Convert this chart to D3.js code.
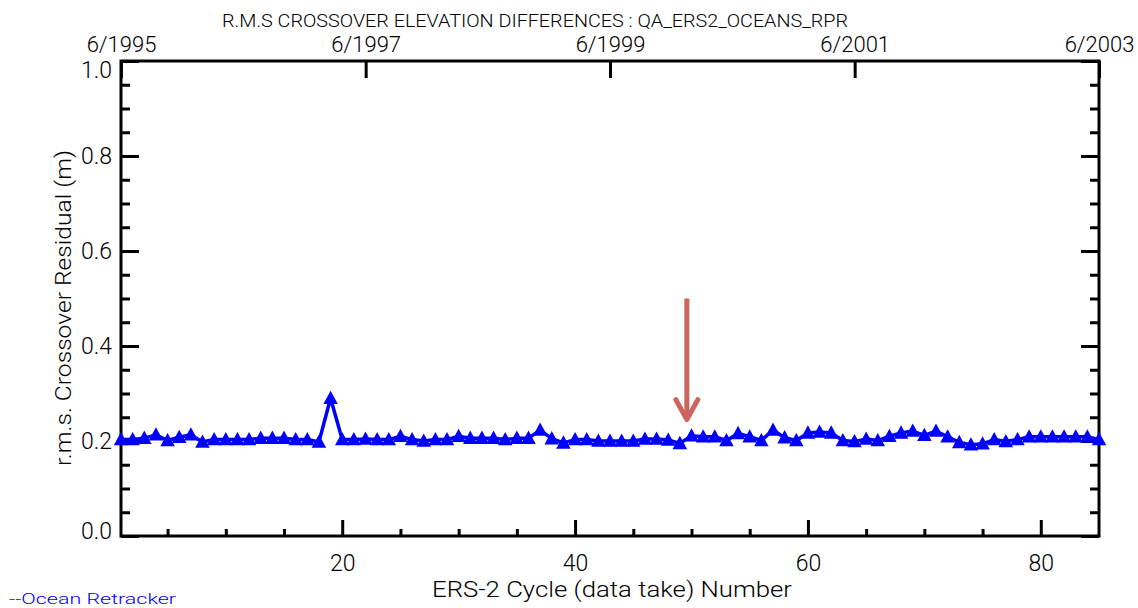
<!DOCTYPE html>
<html>
<head>
<meta charset="utf-8">
<script src="https://cdn.jsdelivr.net/npm/d3@7"></script>
<style>
  body { margin: 0; background: #fff; }
  svg { display: block; }
  .axis text { font-family: Roboto, "DejaVu Sans Condensed", sans-serif; font-weight: 300; font-size: 23px; fill: #000; }
  .axis.top text { font-size: 22px; }
  .axis line { stroke: #000; stroke-width: 3; }
  .axis path { display: none; }
  .label { font-family: Roboto, "DejaVu Sans Condensed", sans-serif; font-weight: 300; fill: #000; }
</style>
</head>
<body>
<div class="chart"></div>
<script>
// r.m.s. crossover residual (m), one value per ERS-2 cycle starting at cycle 1
var firstCycle = 1;
var rmsResidual = [
  0.203, 0.203, 0.206, 0.213, 0.201, 0.208, 0.213, 0.198, 0.203, 0.203,
  0.203, 0.203, 0.206, 0.206, 0.206, 0.203, 0.203, 0.198, 0.290, 0.203,
  0.203, 0.204, 0.203, 0.203, 0.210, 0.203, 0.200, 0.203, 0.203, 0.210,
  0.206, 0.206, 0.206, 0.203, 0.206, 0.206, 0.223, 0.205, 0.196, 0.203,
  0.203, 0.200, 0.200, 0.200, 0.200, 0.204, 0.204, 0.202, 0.195, 0.211,
  0.209, 0.209, 0.201, 0.216, 0.209, 0.201, 0.223, 0.207, 0.201, 0.217,
  0.219, 0.217, 0.201, 0.199, 0.204, 0.201, 0.210, 0.217, 0.221, 0.212,
  0.221, 0.209, 0.197, 0.192, 0.194, 0.203, 0.199, 0.203, 0.209, 0.209,
  0.209, 0.209, 0.209, 0.209, 0.203
];

var xDomain = [1, 85];
var xMajorTicks = [20, 40, 60, 80];
var xMinorTicks = [5, 10, 15, 25, 30, 35, 45, 50, 55, 65, 70, 75];
var yDomain = [0, 1];
var yMajorTicks = [0, 0.2, 0.4, 0.6, 0.8, 1.0];
var yMinorTicks = [0.05, 0.1, 0.15, 0.25, 0.3, 0.35, 0.45, 0.5, 0.55, 0.65, 0.7, 0.75, 0.85, 0.9, 0.95];
var dateTickLabels = ['6/1995', '6/1997', '6/1999', '6/2001', '6/2003'];

var chartTitle = 'R.M.S CROSSOVER ELEVATION DIFFERENCES : QA_ERS2_OCEANS_RPR';
var xTitle = 'ERS-2 Cycle (data take) Number';
var yTitle = 'r.m.s. Crossover Residual (m)';
var legendText = '--Ocean Retracker';

// red arrow annotation: cycle position, from / to residual
var arrowCycle = 49.6, arrowFrom = 0.5, arrowTo = 0.245;

function init() {
  var width = 1138,
      height = 608,
      left = 121,
      right = 1099,
      top = 61,
      bottom = 536,
      majorLen = 18,
      minorLen = 9,
      blue = '#0000ff';

  var parseDate = d3.timeParse('%m/%Y');
  var dateTicks = dateTickLabels.map(parseDate);

  var x = d3.scaleLinear().domain(xDomain).range([left, right]);
  var y = d3.scaleLinear().domain(yDomain).range([bottom, top]);
  var t = d3.scaleTime()
      .domain([dateTicks[0], dateTicks[dateTicks.length - 1]])
      .range([left, right]);

  var svg = d3.select('.chart')
    .append('svg')
      .attr('width', width)
      .attr('height', height);

  // left axis
  svg.append('g')
      .attr('class', 'axis')
      .attr('transform', 'translate(' + left + ',0)')
      .call(d3.axisLeft(y).tickValues(yMajorTicks).tickSize(-majorLen).tickPadding(9)
        .tickFormat(d3.format('.1f')));
  svg.append('g')
      .attr('class', 'axis')
      .attr('transform', 'translate(' + left + ',0)')
      .call(d3.axisLeft(y).tickValues(yMinorTicks).tickSize(-minorLen).tickFormat(''));

  // IDL nudges the end labels inside the frame
  svg.selectAll('.axis .tick text')
      .filter(function(d) { return d === 1; })
      .attr('dy', '0.7em');
  svg.selectAll('.axis .tick text')
      .filter(function(d) { return d === 0 && this.textContent === '0.0'; })
      .attr('dy', '0.12em');

  // right axis
  svg.append('g')
      .attr('class', 'axis')
      .attr('transform', 'translate(' + right + ',0)')
      .call(d3.axisRight(y).tickValues(yMajorTicks).tickSize(-majorLen).tickFormat(''));
  svg.append('g')
      .attr('class', 'axis')
      .attr('transform', 'translate(' + right + ',0)')
      .call(d3.axisRight(y).tickValues(yMinorTicks).tickSize(-minorLen).tickFormat(''));

  // bottom axis
  svg.append('g')
      .attr('class', 'axis')
      .attr('transform', 'translate(0,' + bottom + ')')
      .call(d3.axisBottom(x).tickValues(xMajorTicks).tickSize(-16).tickPadding(19));
  svg.append('g')
      .attr('class', 'axis')
      .attr('transform', 'translate(0,' + bottom + ')')
      .call(d3.axisBottom(x).tickValues(xMinorTicks).tickSize(-7).tickFormat(''));

  // top axis, dates
  svg.append('g')
      .attr('class', 'axis top')
      .attr('transform', 'translate(0,' + top + ')')
      .call(d3.axisTop(t).tickValues(dateTicks).tickSize(-17).tickPadding(9)
        .tickFormat(d3.timeFormat('%-m/%Y')));

  // frame
  svg.append('rect')
      .attr('x', left)
      .attr('y', top)
      .attr('width', right - left)
      .attr('height', bottom - top)
      .attr('fill', 'none')
      .attr('stroke', '#000')
      .attr('stroke-width', 3);

  // data line
  var line = d3.line()
      .x(function(d, i) { return x(firstCycle + i); })
      .y(function(d) { return y(d); });

  svg.append('path')
      .datum(rmsResidual)
      .attr('d', line)
      .attr('fill', 'none')
      .attr('stroke', blue)
      .attr('stroke-width', 3.5)
      .attr('stroke-linejoin', 'round');

  svg.selectAll('path.marker')
      .data(rmsResidual)
    .enter().append('path')
      .attr('class', 'marker')
      .attr('transform', function(d, i) { return 'translate(' + x(firstCycle + i) + ',' + y(d) + ')'; })
      .attr('d', 'M-6,5L0,-6L6,5Z')
      .attr('fill', blue)
      .attr('stroke', blue)
      .attr('stroke-width', 1.5);

  // titles
  svg.append('text')
      .attr('class', 'label')
      .attr('x', 222)
      .attr('y', 27)
      .attr('font-size', 18)
      .attr('textLength', 626)
      .attr('lengthAdjust', 'spacingAndGlyphs')
      .text(chartTitle);

  svg.append('text')
      .attr('class', 'label')
      .attr('x', 432)
      .attr('y', 597)
      .attr('font-size', 22)
      .attr('textLength', 360)
      .attr('lengthAdjust', 'spacingAndGlyphs')
      .text(xTitle);

  svg.append('text')
      .attr('class', 'label')
      .attr('transform', 'translate(71,466) rotate(-90)')
      .attr('font-size', 22)
      .attr('textLength', 316)
      .attr('lengthAdjust', 'spacingAndGlyphs')
      .text(yTitle);

  svg.append('text')
      .attr('class', 'label')
      .attr('x', 9)
      .attr('y', 604)
      .attr('font-size', 15)
      .style('fill', blue)
      .attr('textLength', 167)
      .attr('lengthAdjust', 'spacingAndGlyphs')
      .text(legendText);

  // arrow
  var ax = x(arrowCycle), ay0 = y(arrowFrom), ay1 = y(arrowTo);
  var red = '#cd645d';
  svg.append('line')
      .attr('x1', ax).attr('y1', ay0)
      .attr('x2', ax).attr('y2', ay1 - 2)
      .attr('stroke', red)
      .attr('stroke-width', 5);
  svg.append('path')
      .attr('d', 'M' + (ax - 11) + ',' + (ay1 - 20) + 'L' + ax + ',' + ay1 + 'L' + (ax + 11) + ',' + (ay1 - 20))
      .attr('fill', 'none')
      .attr('stroke', red)
      .attr('stroke-width', 5)
      .attr('stroke-linecap', 'round')
      .attr('stroke-linejoin', 'round');
}

init();
</script>
</body>
</html>
